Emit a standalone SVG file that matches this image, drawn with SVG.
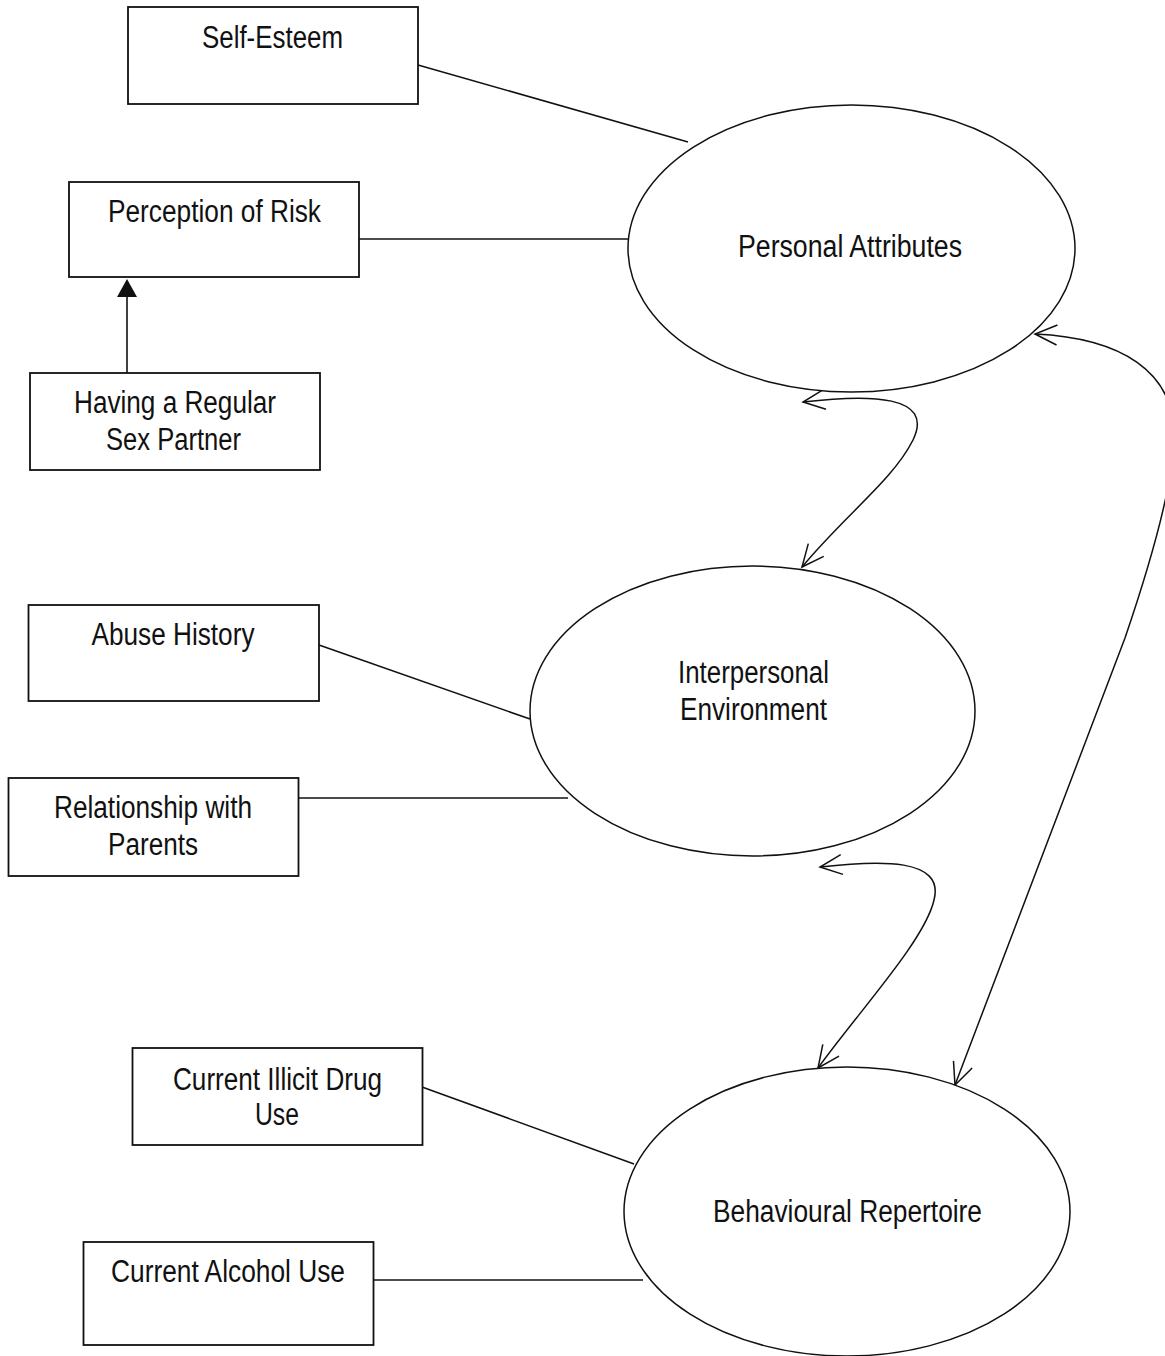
<svg xmlns="http://www.w3.org/2000/svg" width="1165" height="1356" viewBox="0 0 1165 1356">
  <style>
    .box { fill: #fff; stroke: #111; stroke-width: 1.8; }
    .oval { fill: #fff; stroke: #111; stroke-width: 1.5; }
    .lbl { font-family: "Liberation Sans", Arial, sans-serif; font-size: 31px; fill: #111; text-anchor: middle; }
    .link { fill: none; stroke: #111; stroke-width: 1.6; }
    .bi { fill: none; stroke: #111; stroke-width: 1.5; marker-start: url(#vee); marker-end: url(#vee); }
  </style>
  <defs>
    <!-- open V arrowhead, used at both ends of the curved links -->
    <marker id="vee" markerUnits="userSpaceOnUse" markerWidth="30" markerHeight="30" viewBox="-25 -15 30 30" refX="0" refY="0" orient="auto-start-reverse" overflow="visible">
      <path d="M-22,-10 L0,0 L-22,10" fill="none" stroke="#111" stroke-width="1.5"/>
    </marker>
  </defs>

  <rect width="1165" height="1356" fill="#fff"/>

  <!-- connectors -->
  <g id="connectors">
    <line class="link" x1="418" y1="65" x2="688" y2="142"/>
    <line class="link" x1="359" y1="239" x2="628" y2="239"/>
    <line class="link" x1="127" y1="373" x2="127" y2="296"/>
    <polygon points="127,279 117,297 137,297" fill="#111"/>
    <line class="link" x1="319" y1="645" x2="530" y2="719"/>
    <line class="link" x1="298" y1="798" x2="568" y2="798"/>
    <line class="link" x1="422" y1="1087" x2="634" y2="1164"/>
    <line class="link" x1="373" y1="1280" x2="643" y2="1280"/>
    <path class="bi" d="M803,402 C870,394 935,395 913,440 C893,480 845,515 802,567"/>
    <path class="bi" d="M820,867 C880,860 945,858 934,900 C925,940 860,1010 818,1068"/>
    <path class="bi" d="M1035,334 C1122,338 1174,372 1174,435 C1174,480 1155,550 1125,638 L955,1085"/>
  </g>

  <g id="self-esteem">
    <rect class="box" x="128" y="7" width="290" height="97"/>
    <text class="lbl" x="272.5" y="48" textLength="141" lengthAdjust="spacingAndGlyphs">Self-Esteem</text>
  </g>

  <g id="perception-of-risk">
    <rect class="box" x="69" y="182" width="290" height="95"/>
    <text class="lbl" x="214.5" y="222" textLength="213" lengthAdjust="spacingAndGlyphs">Perception of Risk</text>
  </g>

  <g id="regular-sex-partner">
    <rect class="box" x="30" y="373" width="290" height="97"/>
    <text class="lbl" x="175" y="413" textLength="202" lengthAdjust="spacingAndGlyphs">Having a Regular</text>
    <text class="lbl" x="173.5" y="450" textLength="135" lengthAdjust="spacingAndGlyphs">Sex Partner</text>
  </g>

  <g id="personal-attributes">
    <ellipse class="oval" cx="851.5" cy="248.5" rx="223.5" ry="143.5"/>
    <text class="lbl" x="850" y="257" textLength="224" lengthAdjust="spacingAndGlyphs">Personal Attributes</text>
  </g>

  <g id="abuse-history">
    <rect class="box" x="28.5" y="605" width="290.5" height="96"/>
    <text class="lbl" x="173" y="645" textLength="163" lengthAdjust="spacingAndGlyphs">Abuse History</text>
  </g>

  <g id="relationship-with-parents">
    <rect class="box" x="8.5" y="778" width="290" height="98"/>
    <text class="lbl" x="153" y="818" textLength="198" lengthAdjust="spacingAndGlyphs">Relationship with</text>
    <text class="lbl" x="153" y="855" textLength="90" lengthAdjust="spacingAndGlyphs">Parents</text>
  </g>

  <g id="interpersonal-environment">
    <ellipse class="oval" cx="752.5" cy="711" rx="222.5" ry="145"/>
    <text class="lbl" x="753.5" y="683" textLength="151" lengthAdjust="spacingAndGlyphs">Interpersonal</text>
    <text class="lbl" x="753.5" y="720" textLength="147" lengthAdjust="spacingAndGlyphs">Environment</text>
  </g>

  <g id="illicit-drug-use">
    <rect class="box" x="132.5" y="1048" width="290" height="97"/>
    <text class="lbl" x="277.5" y="1090" textLength="209" lengthAdjust="spacingAndGlyphs">Current Illicit Drug</text>
    <text class="lbl" x="277" y="1125" textLength="44" lengthAdjust="spacingAndGlyphs">Use</text>
  </g>

  <g id="alcohol-use">
    <rect class="box" x="83.5" y="1242" width="290" height="103"/>
    <text class="lbl" x="228" y="1282" textLength="234" lengthAdjust="spacingAndGlyphs">Current Alcohol Use</text>
  </g>

  <g id="behavioural-repertoire">
    <ellipse class="oval" cx="847" cy="1211.5" rx="223" ry="144.5"/>
    <text class="lbl" x="847.5" y="1222" textLength="269" lengthAdjust="spacingAndGlyphs">Behavioural Repertoire</text>
  </g>
</svg>
